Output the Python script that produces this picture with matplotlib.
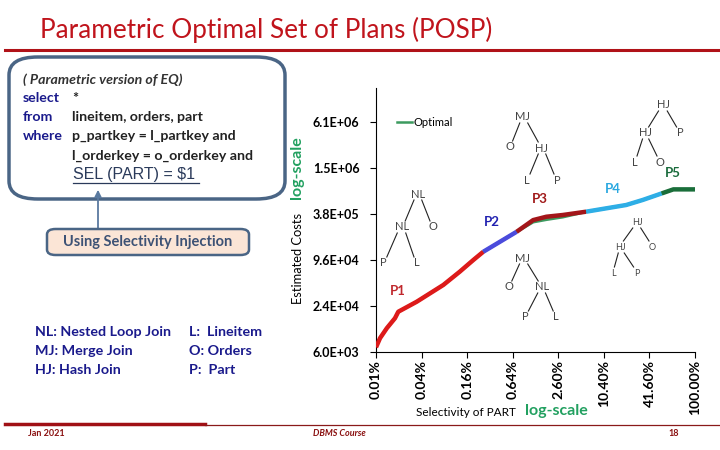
import numpy as np
import matplotlib.pyplot as plt
from matplotlib.lines import Line2D
from matplotlib.patches import FancyBboxPatch, FancyArrowPatch

plt.rcParams['font.family'] = ['Lato', 'DejaVu Sans']

# --- data ---
sel_ticks = [0.01, 0.04, 0.16, 0.64, 2.60, 10.40, 41.60, 100.0]
sel_tick_labels = ["0.01%", "0.04%", "0.16%", "0.64%", "2.60%", "10.40%", "41.60%", "100.00%"]
cost_ticks = [6.0e3, 2.4e4, 9.6e4, 3.84e5, 1.536e6, 6.144e6]
cost_tick_labels = ["6.0E+03", "2.4E+04", "9.6E+04", "3.8E+05", "1.5E+06", "6.1E+06"]

sel_p1 = [0.01, 0.0113, 0.0139, 0.0178, 0.0197, 0.0345, 0.0776, 0.128, 0.193, 0.261]
cost_p1 = [6.9e3, 9.1e3, 1.23e4, 1.66e4, 2.02e4, 2.73e4, 4.53e4, 6.76e4, 9.6e4, 1.23e5]
sel_p2 = [0.261, 0.722]
cost_p2 = [1.23e5, 2.25e5]
sel_p3 = [0.722, 1.20, 1.80, 2.98, 6.07]
cost_p3 = [2.25e5, 3.2e5, 3.54e5, 3.73e5, 4.12e5]
sel_p4 = [6.07, 20.5, 34.0, 52.7]
cost_p4 = [4.12e5, 5.04e5, 5.87e5, 7.15e5]
sel_p5 = [52.7, 65.9, 100.0]
cost_p5 = [7.15e5, 8.07e5, 8.07e5]

sel_opt = sel_p1 + sel_p2[1:] + sel_p3[1:] + sel_p4[1:] + sel_p5[1:]
cost_opt = cost_p1 + [2.25e5, 3.02e5, 3.25e5, 3.51e5, 4.12e5] + cost_p4[1:] + cost_p5[1:]

W, H = 720, 450
fig = plt.figure(figsize=(7.2, 4.5), dpi=100)


def px(x, y):
    return x / W, 1 - y / H


def ftext(x, y, s, **kw):
    fig.text(*px(x, y), s, **kw)


def fline(x0, y0, x1, y1, **kw):
    a, b = px(x0, y0)
    c, d = px(x1, y1)
    fig.add_artist(Line2D([a, c], [b, d], transform=fig.transFigure, **kw))


# ============================================================
# --- title + header/footer lines ---
# ============================================================
ftext(40, 30, "Parametric Optimal Set of Plans (POSP)", fontsize=18.8, color="#c0141c",
      va="center", ha="left")
fline(5, 50, 720, 50, color="#b01218", lw=2.2)
fline(5, 424, 205, 424, color="#a01015", lw=2.5)
fline(205, 425, 720, 425, color="#8a1a1a", lw=0.9)
ftext(28, 433, "Jan 2021", fontsize=6.5, color="#8a1010", fontweight="bold", va="center")
ftext(313, 433, "DBMS Course", fontsize=6.5, color="#8a1010", fontstyle="italic",
      fontweight="bold", va="center")
ftext(668, 433, "18", fontsize=6.5, color="#8a1010", fontweight="bold", va="center")

# ============================================================
# --- query box ---
# ============================================================
x0, y0 = px(9, 199)
x1, y1 = px(285, 57)
box = FancyBboxPatch((x0, y0), x1 - x0, y1 - y0, boxstyle="round,pad=0,rounding_size=0.04",
                     transform=fig.transFigure, facecolor="white", edgecolor="#4a6585", lw=2.5)
fig.add_artist(box)
navy = "#1a1a8c"
qs = 10.2
ftext(23, 80, "( Parametric version of EQ)", fontsize=qs, fontweight="bold",
      fontstyle="italic", color="#333333", va="center")
ftext(23, 98, "select", fontsize=qs, fontweight="bold", color=navy, va="center")
ftext(72, 98, "*", fontsize=qs, fontweight="bold", color="#222222", va="center")
ftext(23, 117, "from", fontsize=qs, fontweight="bold", color=navy, va="center")
ftext(72, 117, "lineitem, orders, part", fontsize=qs, fontweight="bold", color="#222222", va="center")
ftext(23, 136, "where", fontsize=qs, fontweight="bold", color=navy, va="center")
ftext(72, 136, "p_partkey = l_partkey and", fontsize=qs, fontweight="bold", color="#222222", va="center")
ftext(72, 156, "l_orderkey = o_orderkey and", fontsize=qs, fontweight="bold", color="#222222", va="center")
ftext(73, 175, r"SEL (PART) = \$1", fontsize=11.5, color="#2a3a5a", va="center",
      family="Liberation Sans")
fline(73, 183, 199, 183, color="#2a3a5a", lw=0.9)

# arrow + injection box
a0 = px(98, 231)
a1 = px(98, 187)
fig.add_artist(FancyArrowPatch(a0, a1, transform=fig.transFigure, arrowstyle="-|>",
                               mutation_scale=10, color="#5a7aa0", lw=1.3))
x0, y0 = px(47, 255)
x1, y1 = px(249, 229)
box2 = FancyBboxPatch((x0, y0), x1 - x0, y1 - y0, boxstyle="round,pad=0,rounding_size=0.012",
                      transform=fig.transFigure, facecolor="#fbe5d6", edgecolor="#4a6585", lw=1.8)
fig.add_artist(box2)
ftext(148, 242, "Using Selectivity Injection", fontsize=10.5, fontweight="bold",
      color="#3d5275", ha="center", va="center")

# legend of abbreviations
for i, s in enumerate(["NL: Nested Loop Join", "MJ: Merge Join", "HJ: Hash Join"]):
    ftext(35, 332 + 19 * i, s, fontsize=10.3, fontweight="bold", color=navy, va="center")
for i, s in enumerate(["L:  Lineitem", "O: Orders", "P:  Part"]):
    ftext(189, 332 + 19 * i, s, fontsize=10.3, fontweight="bold", color=navy, va="center")

# ============================================================
# --- chart ---
# ============================================================
lt = np.log10(sel_ticks)
pos = np.arange(len(sel_ticks))


def fwd(x):
    return np.interp(np.log10(np.clip(x, 1e-9, None)), lt, pos)


def inv(v):
    return 10 ** np.interp(v, pos, lt)


ax = fig.add_axes([376 / W, 1 - 352 / H, (695 - 376) / W, (352 - 88) / H])
ax.set_xscale("function", functions=(fwd, inv))
ax.set_yscale("log")
ax.set_xlim(0.01, 100)
ax.set_ylim(6000, 6000 * 4 ** 5.74)

ax.plot(sel_opt, cost_opt, color="#3c9a5f", lw=2.2, solid_capstyle="butt", zorder=2)
ax.plot(sel_p1, cost_p1, color="#dd1a1a", lw=3.2, solid_capstyle="butt", zorder=3)
ax.plot(sel_p2, cost_p2, color="#4b4bdc", lw=3.2, solid_capstyle="butt", zorder=3)
ax.plot(sel_p3, cost_p3, color="#a3161a", lw=3.2, solid_capstyle="butt", zorder=3)
ax.plot(sel_p4, cost_p4, color="#2eaee6", lw=3.2, solid_capstyle="butt", zorder=3)
ax.plot(sel_p5, cost_p5, color="#1a6e3a", lw=3.2, solid_capstyle="butt", zorder=3)

ax.set_xticks(sel_ticks)
ax.set_xticklabels(sel_tick_labels, rotation=90, fontsize=10, fontweight="bold")
ax.set_yticks(cost_ticks)
ax.set_yticklabels(cost_tick_labels, fontsize=9, fontweight="bold")
ax.minorticks_off()
ax.tick_params(axis="x", length=4, width=0.8, pad=2)
ax.tick_params(axis="y", length=4, width=0.8, pad=8)
ax.spines["top"].set_visible(False)
ax.spines["right"].set_visible(False)
ax.patch.set_alpha(0)

# axis titles
ftext(298, 258, "Estimated Costs", fontsize=9.3, rotation=90, ha="center", va="center")
ftext(297, 168, "log-scale", fontsize=11.5, rotation=90, ha="center", va="center",
      color="#22a060", fontweight="bold")
ftext(466, 412, "Selectivity of PART", fontsize=8.5, ha="center", va="center")
ftext(556, 411, "log-scale", fontsize=11.5, ha="center", va="center",
      color="#22a060", fontweight="bold")

# legend
fline(397, 122, 412, 122, color="#3c9a5f", lw=1.8)
ftext(413, 122, "Optimal", fontsize=8, va="center")

# plan labels
for s, x, y, c in [("P1", 398, 291, "#c0282d"), ("P2", 492, 222, "#2020b0"),
                   ("P3", 540, 199, "#a01818"), ("P4", 613, 189, "#2aa8e0"),
                   ("P5", 673, 173, "#1a6b3c")]:
    ftext(x, y, s, fontsize=9.5, fontweight="bold", color=c, ha="center", va="center")


# plan trees
def tree(nodes, edges, fs=8):
    for name, (x, y) in nodes.items():
        ftext(x, y, name.rstrip("0123456789"), fontsize=fs, color="#444444",
              ha="center", va="center")
    for p, c in edges:
        xp, yp = nodes[p]
        xc, yc = nodes[c]
        fline(xp + (xc - xp) * 0.25, yp + 6, xc - (xc - xp) * 0.2, yc - 6,
              color="#222222", lw=0.8)


tree({"NL1": (418, 194), "NL2": (402, 227), "O": (433, 227), "P": (383, 263), "L": (417, 263)},
     [("NL1", "NL2"), ("NL1", "O"), ("NL2", "P"), ("NL2", "L")])
tree({"MJ": (523, 117), "O": (510, 147), "HJ": (542, 148), "L": (527, 180), "P": (557, 180)},
     [("MJ", "O"), ("MJ", "HJ"), ("HJ", "L"), ("HJ", "P")])
tree({"HJ1": (663, 105), "HJ2": (645, 133), "P": (680, 133), "L": (635, 162), "O": (660, 162)},
     [("HJ1", "HJ2"), ("HJ1", "P"), ("HJ2", "L"), ("HJ2", "O")])
tree({"HJ1": (637, 222), "HJ2": (620, 247), "O": (652, 247), "L": (613, 273), "P": (637, 273)},
     [("HJ1", "HJ2"), ("HJ1", "O"), ("HJ2", "L"), ("HJ2", "P")], fs=6.5)
tree({"MJ": (523, 258), "O": (509, 287), "NL": (542, 287), "P": (525, 317), "L": (556, 317)},
     [("MJ", "O"), ("MJ", "NL"), ("NL", "P"), ("NL", "L")])

fig.savefig("out.png", dpi=100)
